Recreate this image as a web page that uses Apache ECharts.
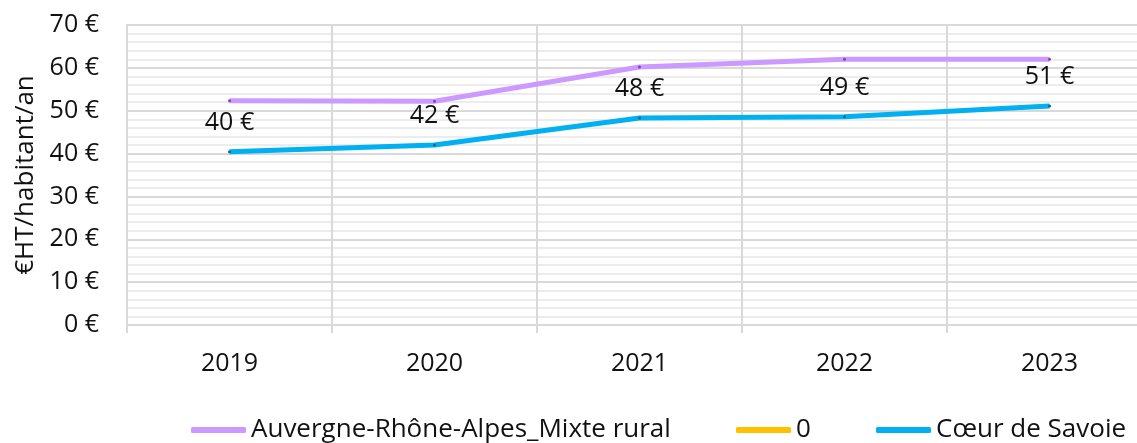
<!DOCTYPE html>
<html>
<head>
<meta charset="utf-8">
<script src="https://cdn.jsdelivr.net/npm/echarts@6/dist/echarts.min.js"></script>
<style>
  html, body { margin: 0; padding: 0; background: #fff; overflow: hidden; }
  /* la zone de tracé déborde à droite, comme dans l'original */
  #chart { width: 1152px; height: 443px; }
</style>
</head>
<body>
<div id="chart"></div>
<script>
// données
const years = ['2019', '2020', '2021', '2022', '2023']
const aura = [52.3, 52.2, 60.2, 62.0, 62.0]
const zero = []
const coeurSavoie = [40.4, 42.0, 48.3, 48.6, 51.1]
const seriesNames = ['Auvergne-Rhône-Alpes_Mixte rural', '0', 'Cœur de Savoie']

const font = 'Open Sans'
const lineColors = ['#cc99ff', '#ffc000', '#00b0f0']
const dotColors = ['#7f3fbf', '#8a6a00', '#006a90']
const chart = echarts.init(document.getElementById('chart'))

const lineSeries = (i, data) => ({
  name: seriesNames[i],
  type: 'line',
  data: data,
  symbol: 'circle',
  symbolSize: 3,
  showSymbol: true,
  itemStyle: { color: dotColors[i], borderWidth: 0 },
  lineStyle: { color: lineColors[i], width: 5 },
  emphasis: { disabled: true },
  animation: false
})

// une légende par série pour caler les positions
const legendAt = (i, left) => ({
  top: 417,
  left: left,
  padding: 0,
  itemWidth: 55,
  itemHeight: 6,
  itemGap: 0,
  itemTextGap: 5,
  icon: 'roundRect',
  itemStyle: { color: lineColors[i] },
  textStyle: { fontFamily: font, fontSize: 26, color: '#111' },
  data: [seriesNames[i]]
})

const option = {
  textStyle: { fontFamily: font },
  grid: { left: 127, right: 0, top: 25, bottom: 118, containLabel: false },
  legend: [legendAt(0, 191), legendAt(1, 736), legendAt(2, 876)],
  xAxis: {
    type: 'category',
    data: years,
    boundaryGap: true,
    axisLine: { lineStyle: { color: '#d9d9d9', width: 2 } },
    axisTick: { show: true, length: 8, lineStyle: { color: '#d9d9d9', width: 2 } },
    axisLabel: { fontFamily: font, fontSize: 25, color: '#111', margin: 26 },
    splitLine: { show: true, lineStyle: { color: '#d9d9d9', width: 2 } }
  },
  yAxis: {
    type: 'value',
    min: 0,
    max: 70,
    interval: 10,
    name: '€HT/habitant/an',
    nameLocation: 'middle',
    nameGap: 84,
    nameTextStyle: { fontFamily: font, fontSize: 26, color: '#111' },
    axisLine: { show: true, lineStyle: { color: '#d9d9d9', width: 2 } },
    axisTick: { show: false },
    axisLabel: { fontFamily: font, fontSize: 25, color: '#111', margin: 28, formatter: '{value} €' },
    splitLine: { show: true, lineStyle: { color: '#d9d9d9', width: 2 } },
    minorTick: { show: false, splitNumber: 5 },
    minorSplitLine: { show: true, lineStyle: { color: '#ececec', width: 2 } }
  },
  series: [
    lineSeries(0, aura),
    lineSeries(1, zero),
    Object.assign(lineSeries(2, coeurSavoie), {
      label: {
        show: true,
        position: 'top',
        distance: 15,
        fontFamily: font,
        fontSize: 25,
        color: '#111',
        formatter: p => Math.round(p.value) + ' €'
      }
    })
  ]
}

chart.setOption(option)
</script>
</body>
</html>
